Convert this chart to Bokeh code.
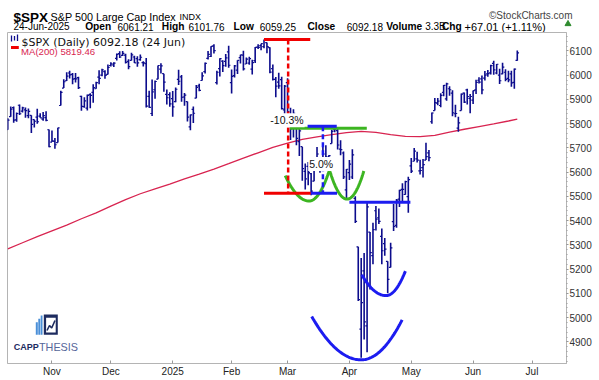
import numpy as np
import pandas as pd
from bokeh.plotting import figure
from bokeh.layouts import column
from bokeh.models import (Range1d, LinearAxis, FixedTicker, SingleIntervalTicker,
                          Label, ColumnDataSource)
from bokeh.embed import file_html
from bokeh.resources import INLINE

# ---------------------------------------------------------------- data
holidays = ["2024-11-28", "2024-12-25", "2025-01-01", "2025-01-09", "2025-01-20",
            "2025-02-17", "2025-04-18", "2025-05-26", "2025-06-19", "2025-07-04"]
first_day = "2024-10-11"
last_day = "2025-06-24"
axis_end_day = "2025-07-31"

opens = [
    5775, 5829, 5866, 5816, 5876, 5852, 5857, 5833, 5834, 5817, 5827, 5831, 5819, 5825, 5775,
    5724, 5727, 5722, 5875, 5947, 5977, 6009, 6003, 5986, 5990, 5913, 5870, 5864, 5920, 5929, 5944, 5992, 6000, 6015, 6003,
    6040, 6042, 6069, 6089, 6082, 6083, 6057, 6061, 6075, 6068, 6064, 6052, 6048, 5913, 5842, 5940, 5984, 6025, 6006, 5921, 5920,
    5903, 5891, 5983, 5993, 5910, 5891, 5787, 5859, 5905, 5956, 5978, 6015, 6069, 6077, 6121, 5969, 6027, 6058, 6057, 6096,
    5969, 5998, 6021, 6072, 6083, 6046, 6050, 6025, 6060, 6116, 6122, 6118, 6134, 6114, 6027, 5983, 5971, 5982, 5857,
    5969, 5812, 5782, 5786, 5726, 5705, 5603, 5624, 5594, 5563, 5635, 5654, 5633, 5646, 5631, 5718, 5775, 5771, 5695, 5679, 5527,
    5598, 5580, 5492, 5292, 4953, 5193, 4966, 5353, 5256, 5441, 5412, 5335, 5305, 5232, 5207, 5396, 5381, 5489, 5529, 5508, 5499,
    5626, 5645, 5655, 5605, 5619, 5650, 5680, 5808, 5854, 5885, 5875, 5929, 5902, 5944, 5926, 5841, 5782, 5854, 5926, 5939, 5904,
    5897, 5939, 5979, 5985, 5988, 6005, 6010, 6049, 6009, 6000, 6005, 6012, 5987, 6005, 5970, 6061]
highs = [
    5822, 5871, 5871, 5846, 5879, 5870, 5867, 5863, 5835, 5817, 5862, 5843, 5848, 5851, 5776,
    5772, 5741, 5783, 5936, 5983, 6012, 6018, 6009, 6009, 5994, 5915, 5909, 5920, 5925, 5963, 5973, 6020, 6026, 6020, 6044,
    6053, 6053, 6089, 6099, 6100, 6088, 6066, 6093, 6080, 6078, 6085, 6057, 6071, 5936, 5982, 5978, 6040, 6049, 6006, 5941, 5930,
    5935, 5949, 6022, 6001, 5927, 5891, 5838, 5871, 5960, 5965, 6012, 6052, 6100, 6119, 6128, 6018, 6070, 6062, 6087, 6121,
    6023, 6042, 6062, 6084, 6101, 6073, 6076, 6064, 6116, 6128, 6130, 6147, 6135, 6115, 6044, 5992, 6010, 5994, 5960,
    5987, 5866, 5860, 5812, 5783, 5705, 5636, 5642, 5597, 5645, 5704, 5654, 5716, 5711, 5670, 5775, 5787, 5779, 5732, 5685, 5613,
    5650, 5695, 5501, 5292, 5246, 5267, 5481, 5353, 5391, 5460, 5450, 5368, 5329, 5233, 5309, 5469, 5489, 5528, 5554, 5565, 5581,
    5658, 5700, 5684, 5651, 5654, 5721, 5691, 5846, 5906, 5906, 5925, 5959, 5969, 5954, 5938, 5878, 5829, 5924, 5929, 5944, 5922,
    5937, 5981, 5991, 5999, 6017, 6021, 6043, 6059, 6046, 6026, 6051, 6024, 6018, 6018, 6028, 6102]
lows = [
    5775, 5829, 5804, 5808, 5836, 5846, 5824, 5822, 5762, 5784, 5800, 5824, 5812, 5810, 5703,
    5724, 5697, 5722, 5875, 5947, 5976, 5986, 5963, 5970, 5943, 5853, 5866, 5854, 5864, 5886, 5944, 5963, 5996, 5985, 6003,
    6036, 6034, 6061, 6071, 6079, 6048, 6024, 6061, 6050, 6035, 6059, 6036, 5867, 5866, 5832, 5903, 5983, 6007, 5932, 5879, 5870,
    5829, 5888, 5960, 5890, 5874, 5809, 5773, 5803, 5905, 5934, 5978, 6007, 6065, 6075, 6089, 5962, 5995, 6013, 6035, 6031,
    5924, 5990, 6005, 6048, 6019, 6046, 6043, 6003, 6050, 6108, 6103, 6111, 6090, 6008, 5978, 5909, 5944, 5858, 5837,
    5810, 5733, 5743, 5711, 5667, 5565, 5529, 5546, 5505, 5563, 5629, 5598, 5622, 5641, 5603, 5718, 5765, 5694, 5670, 5572, 5489,
    5568, 5572, 5390, 5069, 4835, 4910, 4857, 5116, 5220, 5359, 5386, 5220, 5255, 5101, 5207, 5357, 5371, 5456, 5478, 5507, 5433,
    5597, 5645, 5640, 5590, 5578, 5650, 5645, 5800, 5854, 5876, 5868, 5913, 5895, 5915, 5831, 5826, 5767, 5854, 5885, 5879, 5843,
    5881, 5922, 5966, 5921, 5978, 5994, 6003, 6002, 6004, 5964, 6004, 5975, 5971, 5952, 5944, 6059]
closes = [
    5815, 5860, 5815, 5842, 5841, 5865, 5854, 5851, 5797, 5810, 5808, 5824, 5833, 5814, 5705,
    5729, 5713, 5783, 5929, 5973, 5996, 6001, 5984, 5985, 5949, 5871, 5894, 5917, 5917, 5949, 5969, 5987, 6022, 5999, 6032,
    6047, 6050, 6086, 6075, 6090, 6053, 6035, 6084, 6051, 6051, 6074, 6051, 5872, 5867, 5931, 5974, 6040, 6038, 5971, 5907, 5882,
    5869, 5942, 5975, 5909, 5918, 5827, 5836, 5843, 5950, 5937, 5997, 6049, 6086, 6119, 6101, 6012, 6068, 6039, 6071, 6041,
    5995, 6038, 6061, 6084, 6026, 6066, 6068, 6052, 6115, 6115, 6130, 6144, 6118, 6013, 5983, 5955, 5956, 5862, 5955,
    5850, 5778, 5843, 5739, 5770, 5615, 5572, 5599, 5522, 5639, 5675, 5615, 5675, 5663, 5668, 5768, 5777, 5712, 5693, 5581, 5612,
    5633, 5671, 5397, 5074, 5062, 4983, 5457, 5268, 5363, 5406, 5397, 5276, 5283, 5158, 5288, 5376, 5485, 5525, 5529, 5561, 5569,
    5604, 5687, 5650, 5607, 5631, 5664, 5660, 5844, 5887, 5893, 5917, 5958, 5964, 5940, 5845, 5842, 5803, 5922, 5889, 5912, 5912,
    5936, 5970, 5971, 5939, 6000, 6006, 6039, 6022, 6045, 5977, 6033, 5983, 5981, 5968, 6025, 6092]

# 200-day moving average, read every 5th bar (plus the last bar)
ma_step = 5
ma_values = [5284, 5309, 5334, 5358, 5382, 5408, 5432, 5460, 5487, 5511, 5531, 5551,
             5572, 5592, 5613, 5635, 5658, 5680, 5702, 5720, 5735, 5746, 5755, 5763,
             5768, 5764, 5755, 5748, 5747, 5752, 5765, 5777, 5788, 5799, 5811, 5819]

month_keys = ["2024-11", "2024-12", "2025-01", "2025-02", "2025-03",
              "2025-04", "2025-05", "2025-06", "2025-07"]
month_labels = ["Nov", "Dec", "2025", "Feb", "Mar", "Apr", "May", "Jun", "Jul"]

# chart annotations, in (bar index, price)
drop_high, drop_low = 6147, 5513          # -10.3 %
red_seg_x0 = [87.0, 87.0]
red_seg_x1 = [102.7, 102.9]
red_seg_y = [drop_high, drop_low]
red_dash_x = 95.2
green_seg = (95.8, 121.9, 5781)
blue_seg_x0 = [102.9, 101.8, 116.0]
blue_seg_x1 = [111.8, 111.7, 136.7]
blue_seg_y = [drop_low, 5789, 5476]
blue_dash = (107.0, 5789, drop_low)
green_arcs = [[(94.2, 5586), (102.3, 5481), (109.4, 5615)],
              [(109.1, 5615), (115.2, 5489), (120.9, 5605)]]
blue_arcs = [[(103.2, 5005), (120.0, 4826), (133.9, 4991)],
             [(120.2, 5177), (128.4, 5091), (135.0, 5192)]]
pct_labels = [("-10.3%", 94.8, 5814), ("5.0%", 106.4, 5634)]

# ---------------------------------------------------------------- style
NAVY = "#0c0c8c"
MA_COL = "#d82450"
RED = "#f00000"
BLUE = "#1c1cf0"
GREEN = "#3cb521"
GRAY = "#b4b4b4"
FONT = "Liberation Sans"

HDR_W, HDR_H = 598, 32
FR_L, FR_T, FR_W, FR_H = 7, 32, 559, 331
XR0 = -0.1
XR1 = XR0 + FR_W / 2.945
YR0, YR1 = 4811, 6176


# page-pixel -> data helpers for decorations inside the frame
def dx(xp):
    return XR0 + (xp - FR_L) / FR_W * (XR1 - XR0)


def dy(yp):
    return YR1 - (yp - FR_T) / FR_H * (YR1 - YR0)


# ---------------------------------------------------------------- calendar
cal = pd.bdate_range(first_day, axis_end_day, freq="C", holidays=holidays)
n = len(pd.bdate_range(first_day, last_day, freq="C", holidays=holidays))
xpos = np.arange(n)
ym = np.array(cal.strftime("%Y-%m"))
month_pos = [int(np.argmax(ym == k)) for k in month_keys]

# ---------------------------------------------------------------- header
hdr = figure(frame_width=HDR_W, frame_height=HDR_H, x_range=Range1d(0, HDR_W),
             y_range=Range1d(0, HDR_H), toolbar_location=None, output_backend="svg",
             x_axis_type=None, y_axis_type=None, min_border=0, outline_line_color=None)

# (x, baseline y from top, text, size px, bold, colour, align)
L2 = 26.3
hdr_items = [
    (6, 16.8, "$SPX", 13.5, True, "#000000", "left"),
    (43, 16.4, "S&P 500 Large Cap Index", 10.8, False, "#000000", "left"),
    (172, 16.4, "INDX", 9, False, "#000000", "left"),
    (565, 14.6, "\u00a9StockCharts.com", 10, False, "#444444", "right"),
    (6, L2, "24-Jun-2025", 10, False, "#000000", "left"),
    (77.7, L2, "Open", 10.2, True, "#000000", "left"),
    (110, L2, "6061.21", 10, False, "#000000", "left"),
    (154.3, L2, "High", 10.2, True, "#000000", "left"),
    (181, L2, "6101.76", 10, False, "#000000", "left"),
    (226, L2, "Low", 10.2, True, "#000000", "left"),
    (252.3, L2, "6059.25", 10, False, "#000000", "left"),
    (300, L2, "Close", 10.2, True, "#000000", "left"),
    (339.3, L2, "6092.18", 10, False, "#000000", "left"),
    (378.7, L2, "Volume", 10.2, True, "#000000", "left"),
    (417.7, L2, "3.3B", 10, False, "#000000", "left"),
    (434.5, L2, "Chg", 10.2, True, "#000000", "left"),
    (457, L2, "+67.01 (+1.11%)", 11, False, "#000000", "left"),
]
for x, y, t, s, b, col, al in hdr_items:
    hdr.add_layout(Label(x=x, y=HDR_H - y, text=t, text_font=FONT,
                         text_font_size=f"{s}px",
                         text_font_style="bold" if b else "normal",
                         text_color=col, text_align=al, text_baseline="alphabetic"))
hdr.scatter([560.5], [HDR_H - 23.4], marker="triangle", size=6, color="#2e8b2e")

# ---------------------------------------------------------------- main chart
p = figure(frame_width=FR_W, frame_height=FR_H,
           x_range=Range1d(XR0, XR1), y_range=Range1d(YR0, YR1),
           toolbar_location=None, output_backend="svg", x_axis_type=None,
           y_axis_type=None, min_border_left=FR_L, min_border_right=32,
           min_border_top=0, min_border_bottom=16, outline_line_color=GRAY)
p.background_fill_color = "white"
p.border_fill_color = "white"

yax = LinearAxis(ticker=SingleIntervalTicker(interval=100, num_minor_ticks=5))
yax.axis_line_color = GRAY
yax.major_tick_line_color = "#999999"
yax.minor_tick_line_color = "#999999"
yax.major_tick_out = 2
yax.major_tick_in = 0
yax.minor_tick_out = 1
yax.minor_tick_in = 0
yax.major_label_standoff = 1
yax.major_label_text_font = FONT
yax.major_label_text_font_size = "10px"
yax.major_label_text_color = "#333333"
p.add_layout(yax, "right")

overrides = {}
for pos, lab in zip(month_pos, month_labels):
    overrides[pos] = lab
    overrides[str(pos)] = lab
xax = LinearAxis(ticker=FixedTicker(ticks=month_pos), major_label_overrides=overrides)
xax.axis_line_color = GRAY
xax.major_tick_line_color = "#999999"
xax.major_tick_in = 3
xax.major_tick_out = 0
xax.major_label_standoff = 2
xax.major_label_text_font = FONT
xax.major_label_text_font_size = "10px"
xax.major_label_text_color = "#222222"
p.add_layout(xax, "below")

# 200-day MA
ma_pos = list(range(0, n, ma_step)) + [n - 1]
p.line(ma_pos, ma_values, line_color=MA_COL, line_width=1.3)

# OHLC bars
src = ColumnDataSource(dict(x=xpos, o=opens, h=highs, l=lows, c=closes,
                            xl=xpos - 0.6, xr=xpos + 0.6))
p.segment(x0="x", y0="l", x1="x", y1="h", source=src, line_color=NAVY, line_width=1.6)
p.segment(x0="xl", y0="o", x1="x", y1="o", source=src, line_color=NAVY, line_width=1.2)
p.segment(x0="x", y0="c", x1="xr", y1="c", source=src, line_color=NAVY, line_width=1.2)


# annotations
def arc(points, npts=40):
    (xl, yl), (xb, yb), (xr, yr) = points
    a = np.linspace(xl, xb, npts)
    b = np.linspace(xb, xr, npts)
    ya = yb + (yl - yb) * ((a - xb) / (xl - xb)) ** 2
    yb2 = yb + (yr - yb) * ((b - xb) / (xr - xb)) ** 2
    return np.concatenate([a, b]), np.concatenate([ya, yb2])


for pts in green_arcs:
    ax_, ay_ = arc(pts)
    p.line(ax_, ay_, line_color=GREEN, line_width=3)
for pts in blue_arcs:
    ax_, ay_ = arc(pts)
    p.line(ax_, ay_, line_color=BLUE, line_width=3)

p.segment(x0=red_seg_x0, y0=red_seg_y, x1=red_seg_x1, y1=red_seg_y,
          line_color=RED, line_width=3)
p.segment(x0=[red_dash_x], y0=[drop_high], x1=[red_dash_x], y1=[drop_low],
          line_color=RED, line_width=2.5, line_dash="5 3")
p.segment(x0=[green_seg[0]], y0=[green_seg[2]], x1=[green_seg[1]], y1=[green_seg[2]],
          line_color=GREEN, line_width=3)
p.segment(x0=blue_seg_x0, y0=blue_seg_y, x1=blue_seg_x1, y1=blue_seg_y,
          line_color=BLUE, line_width=3)
p.segment(x0=[blue_dash[0]], y0=[blue_dash[1]], x1=[blue_dash[0]], y1=[blue_dash[2]],
          line_color=BLUE, line_width=2.5, line_dash="5 3")
for t, x, y in pct_labels:
    p.add_layout(Label(x=x, y=y, text=t, text_font=FONT, text_font_size="10.5px",
                       text_color="#111111", text_align="center",
                       text_baseline="middle", background_fill_color="white",
                       padding=1))

# in-chart legend
p.segment(x0=[dx(11), dx(14), dx(17)], y0=[dy(41.0), dy(40.0), dy(40.5)],
          x1=[dx(11), dx(14), dx(17)], y1=[dy(35.0), dy(35.5), dy(34.0)],
          line_color=NAVY, line_width=1.3)
p.add_layout(Label(x=dx(21), y=dy(41.6), text="$SPX (Daily) 6092.18 (24 Jun)",
                   text_font="DejaVu Sans", text_font_size="11px",
                   text_color="#111111", text_baseline="alphabetic"))
p.segment(x0=[dx(10.5)], y0=[dy(47.0)], x1=[dx(18.3)], y1=[dy(47.0)],
          line_color=RED, line_width=3)
p.add_layout(Label(x=dx(20.5), y=dy(50.8), text="MA(200) 5819.46",
                   text_font=FONT, text_font_size="9.6px",
                   text_color=MA_COL, text_baseline="alphabetic"))

# logo
p.quad(left=[dx(35.3), dx(37.8), dx(40.2)], right=[dx(37.3), dx(39.8), dx(42.0)],
       top=[dy(321.7), dy(318.3), dy(315.0)], bottom=[dy(334.3)] * 3,
       fill_color="#4a8fd8", line_color=None)
p.quad(left=[dx(43.3)], right=[dx(57.3)], top=[dy(314)], bottom=[dy(334.3)],
       fill_color="#1d2b5f", line_color=None)
p.quad(left=[dx(45.6)], right=[dx(55.2)], top=[dy(317.2)], bottom=[dy(332.0)],
       fill_color="white", line_color=None)
p.line([dx(46.5), dx(49.0), dx(51.2), dx(54.5)],
       [dy(330.0), dy(325.0), dy(327.5), dy(320.0)], line_color="#1d2b5f", line_width=1.6)
p.add_layout(Label(x=dx(13.3), y=dy(346.8), text="CAPP", text_font=FONT,
                   text_font_size="9px", text_font_style="bold",
                   text_color="#1d2b5f", text_baseline="alphabetic"))
p.add_layout(Label(x=dx(38.5), y=dy(346.8), text="THESIS", text_font=FONT,
                   text_font_size="10.8px", text_color="#56669a",
                   text_baseline="alphabetic"))

layout = column(hdr, p, spacing=0)
open("out.html", "w").write(file_html(layout, INLINE))
